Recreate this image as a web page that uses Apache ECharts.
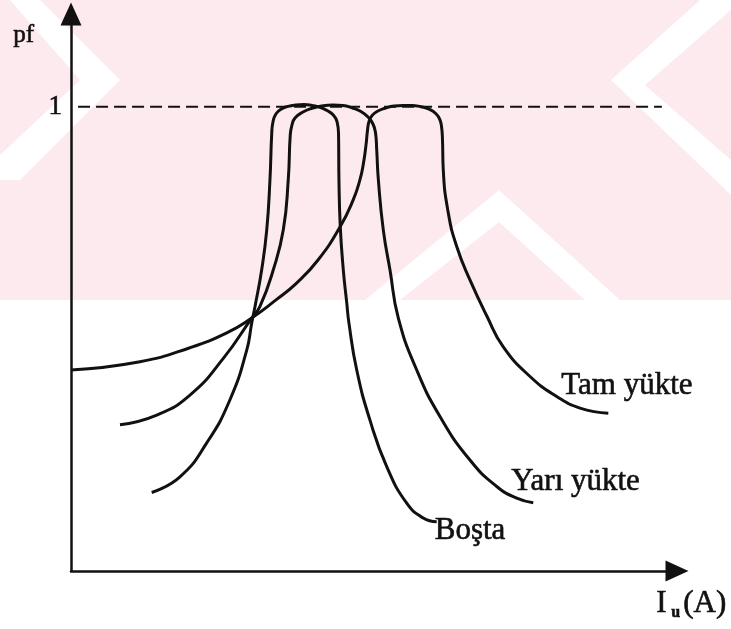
<!DOCTYPE html>
<html>
<head>
<meta charset="utf-8">
<script src="https://cdn.jsdelivr.net/npm/echarts@6/dist/echarts.min.js"></script>
<style>
  html, body { margin: 0; padding: 0; background: #fff; }
  #chart-container { width: 731px; height: 629px; }
</style>
</head>
<body>
<div id="chart-container"></div>
<script>
// curve points: [I_u, pf]
const bostaData = [
  [0.799, 0.169], [1.079, 0.203], [1.344, 0.276], [1.574, 0.369], [1.740, 0.476],
  [1.789, 0.534], [1.822, 0.570], [1.888, 0.649], [1.938, 0.735], [1.970, 0.843],
  [1.987, 0.940], [2.000, 0.968], [2.030, 0.985], [2.079, 0.995], [2.149, 1.001],
  [2.228, 1.004], [2.307, 1.005], [2.386, 1.003], [2.465, 0.999], [2.535, 0.992],
  [2.594, 0.983], [2.634, 0.968], [2.649, 0.940], [2.653, 0.843], [2.666, 0.742],
  [2.696, 0.649], [2.730, 0.578], [2.752, 0.534], [2.829, 0.433], [2.960, 0.325],
  [3.126, 0.225], [3.324, 0.146], [3.488, 0.114], [3.621, 0.106],
];

const yariData = [
  [0.485, 0.315], [0.849, 0.336], [1.178, 0.379], [1.508, 0.458], [1.789, 0.545],
  [1.871, 0.570], [2.003, 0.649], [2.102, 0.735], [2.151, 0.843], [2.171, 0.940],
  [2.188, 0.961], [2.218, 0.976], [2.297, 0.989], [2.386, 0.997], [2.485, 1.002],
  [2.594, 1.004], [2.693, 1.003], [2.782, 0.998], [2.871, 0.990], [2.941, 0.978],
  [2.990, 0.963], [3.015, 0.944], [3.027, 0.907], [3.043, 0.843], [3.092, 0.735],
  [3.158, 0.649], [3.241, 0.545], [3.423, 0.433], [3.653, 0.333], [3.950, 0.239],
  [4.215, 0.182], [4.413, 0.157], [4.577, 0.147],
];

const tamData = [
  [0.000, 0.433], [0.683, 0.451], [1.178, 0.481], [1.542, 0.513], [1.789, 0.545],
  [2.030, 0.584], [2.228, 0.619], [2.446, 0.670], [2.663, 0.741], [2.795, 0.800],
  [2.861, 0.843], [2.896, 0.879], [2.921, 0.918], [2.936, 0.950], [2.950, 0.968],
  [2.980, 0.981], [3.030, 0.990], [3.109, 0.997], [3.198, 1.002], [3.287, 1.003],
  [3.376, 1.003], [3.465, 1.000], [3.545, 0.995], [3.614, 0.985], [3.653, 0.972],
  [3.670, 0.955], [3.678, 0.929], [3.686, 0.864], [3.736, 0.771], [3.819, 0.699],
  [3.950, 0.627], [4.116, 0.550], [4.280, 0.483], [4.545, 0.419], [4.809, 0.376],
  [5.040, 0.351], [5.320, 0.340],
];

// pf = 1 reference (dashed)
const unityLine = [[0.07, 1], [5.85, 1]];

const seriesNames = ["Boşta", "Yarı yükte", "Tam yükte"];

const FONT = "Liberation Serif";
const INK = "#111";

const dom = document.getElementById("chart-container");
const chart = echarts.init(dom, null, { renderer: "canvas" });

// pale watermark band behind the top of the figure
const watermark = [
  { type: "rect", z: -10, silent: true, shape: { x: 0, y: 0, width: 731, height: 300 }, style: { fill: "#fdeaee" } },
  { type: "polygon", z: -9, silent: true, shape: { points: [[10, 0], [40, 0], [120, 80], [20, 180], [0, 180], [0, 155], [80, 80]] }, style: { fill: "#fff" } },
  { type: "polygon", z: -9, silent: true, shape: { points: [[499, 190], [620, 300], [585, 300], [499, 222], [400, 300], [365, 300]] }, style: { fill: "#fff" } },
  { type: "polygon", z: -9, silent: true, shape: { points: [[611, 80], [700, 0], [731, 0], [731, 10], [645, 85], [731, 160], [731, 195]] }, style: { fill: "#fff" } },
];

// scanned text looks a bit heavier, thicken it slightly
const inkText = { fill: INK, stroke: INK, lineWidth: 0.6 };

const curve = (name, data, endOffset) => ({
  name,
  type: "line",
  data,
  smooth: 0.5,
  showSymbol: false,
  lineStyle: { color: INK, width: 3 },
  endLabel: {
    show: true,
    formatter: name,
    distance: 0,
    offset: endOffset,
    color: INK,
    textBorderColor: INK,
    textBorderWidth: 0.6,
    fontFamily: FONT,
    fontSize: 31,
  },
});

const option = {
  animation: false,
  backgroundColor: "#fff",
  grid: { left: 71, right: 54, top: 14, bottom: 58 },
  xAxis: {
    type: "value",
    min: 0,
    max: 6,
    axisLine: {
      onZero: false,
      symbol: ["none", "triangle"],
      symbolSize: [21, 23],
      lineStyle: { color: INK, width: 2.5 },
    },
    axisTick: { show: false },
    axisLabel: { show: false },
    splitLine: { show: false },
  },
  yAxis: {
    type: "value",
    min: 0,
    max: 1.2,
    interval: 1,
    axisLine: {
      show: true,
      onZero: false,
      symbol: ["none", "triangle"],
      symbolSize: [21, 23],
      lineStyle: { color: INK, width: 2.5 },
    },
    axisTick: { show: false },
    axisLabel: {
      formatter: (v) => (v === 1 ? "1" : ""),
      margin: 9,
      padding: [4, 0, 0, 0],
      color: INK,
      textBorderColor: INK,
      textBorderWidth: 0.6,
      fontFamily: FONT,
      fontSize: 27,
    },
    splitLine: { show: false },
  },
  graphic: [
    ...watermark,
    { type: "text", left: 13, top: 23, style: { text: "pf", font: `25px "${FONT}"`, ...inkText } },
    { type: "text", left: 656, top: 588, style: { text: "I", font: `31px "${FONT}"`, ...inkText } },
    { type: "text", left: 671, top: 605, style: { text: "u", font: `bold 16px "${FONT}"`, ...inkText } },
    { type: "text", left: 683, top: 588, style: { text: "(A)", font: `31px "${FONT}"`, ...inkText } },
  ],
  series: [
    curve(seriesNames[0], bostaData, [-2, 9]),
    curve(seriesNames[1], yariData, [-22, -21]),
    curve(seriesNames[2], tamData, [-47, -27]),
    {
      name: "pf = 1",
      type: "line",
      data: unityLine,
      showSymbol: false,
      lineStyle: { color: INK, width: 2, type: [12, 6] },
    },
  ],
};

chart.setOption(option);
window.addEventListener("resize", chart.resize);
</script>
</body>
</html>
